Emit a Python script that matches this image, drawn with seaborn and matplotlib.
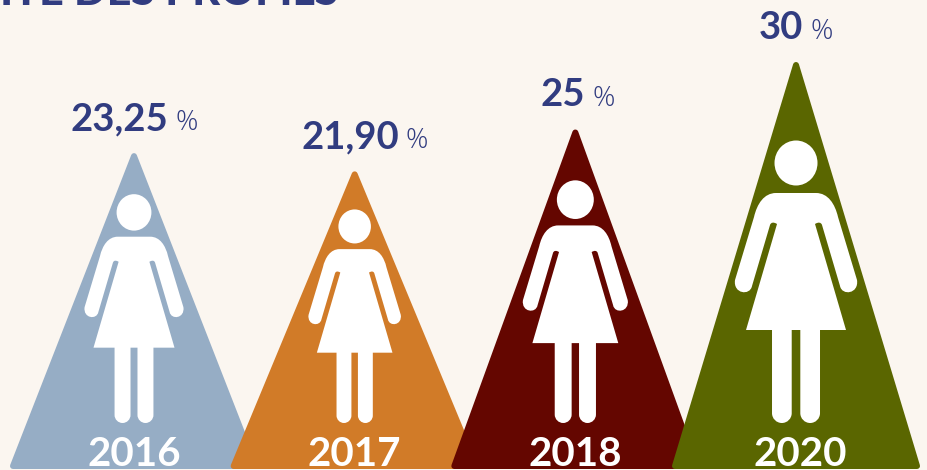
import matplotlib.pyplot as plt
import pandas as pd
import seaborn as sns
from matplotlib.patches import Ellipse, PathPatch, Polygon
from matplotlib.path import Path

# chart values
years = ["2016", "2017", "2018", "2020"]
shares = [23.25, 21.90, 25, 30]
share_labels = ["23,25", "21,90", "25", "30"]
colors = ["#96ADC5", "#D17B28", "#640600", "#5A6600"]
title_text = "MIXITÉ DES PROFILS"

BG = "#FBF6F0"
INK = "#313C80"
W, H = 928, 470
PX_X = 220.67  # px per category step
PX_Y = 13.5  # px per percentage point
BASE_PX = 469
CORNER = 3

# the pictogram is a bit larger than the value scale on small triangles
icon_scale = [0.81, 0.756, 0.859, 1.0]
year_shift = [0, 0, 0, 4.5]
share_shift = [0, 10, 2.5, 0]
FONT = "Lato"


def px_x(dx):
    return dx / PX_X


def px_y(dy):
    return dy / PX_Y


def draw_triangle(ax, bar, color, order):
    left = bar.get_x()
    right = left + bar.get_width()
    mid = (left + right) / 2
    top = bar.get_height()
    pts = [
        (left + px_x(CORNER), px_y(CORNER)),
        (mid, top - px_y(1)),
        (right - px_x(CORNER), px_y(CORNER)),
    ]
    ax.add_patch(Polygon(pts, closed=True, facecolor=color, edgecolor=color,
                         linewidth=CORNER * 2 * 0.72, joinstyle="round", zorder=order))


def draw_woman(ax, mid, scale, order):
    # outline measured in px on the 2020 figure, x from centre, y above the feet
    def xy(x, y):
        return mid + px_x(x * scale), px_y((y * scale) + 46)

    def add_shape(verts, codes):
        pts = [xy(*v) for v in verts]
        ax.add_patch(PathPatch(Path(pts, codes), facecolor="white", edgecolor="none", zorder=order))

    M, L, C, Z = Path.MOVETO, Path.LINETO, Path.CURVE4, Path.CLOSEPOLY

    # head
    hx, hy = xy(0, 260)
    ax.add_patch(Ellipse((hx, hy), px_x(43 * scale), px_y(45 * scale),
                         facecolor="white", edgecolor="none", zorder=order))

    # body with arms
    verts = [
        (0, 230), (20, 230),
        (32, 230), (39, 219), (42, 206),
        (61, 143),
        (63, 129), (46, 127), (44, 137),
        (26, 198),
        (25, 201), (22, 201), (19, 199),
        (50, 93),
        (-50, 93),
        (-19, 199),
        (-22, 201), (-25, 201), (-26, 198),
        (-44, 137),
        (-46, 127), (-63, 129), (-61, 143),
        (-42, 206),
        (-39, 219), (-32, 230), (-20, 230),
        (0, 230),
    ]
    codes = [M, L, C, C, C, L, C, C, C, L, C, C, C, L, L, L,
             C, C, C, L, C, C, C, L, C, C, C, Z]
    add_shape(verts, codes)

    # legs
    for sign in (-1, 1):
        a, b = sorted((sign * 4.3, sign * 24))
        r = (b - a) / 2
        k = r * 0.55
        leg = [
            (a, 94), (b, 94), (b, r),
            (b, r - k), (b - r + k, 0), (b - r, 0),
            (a + r - k, 0), (a, r - k), (a, r),
            (a, 94),
        ]
        add_shape(leg, [M, L, L, C, C, C, C, C, C, Z])


def draw_share(ax, mid, share, label, renderer):
    y = share + px_y(25)
    num = ax.text(mid, y, label, fontsize=27.5, fontweight="bold", color=INK,
                  family=FONT, ha="left", va="baseline", zorder=10)
    pct = ax.text(mid, y, "%", fontsize=20, fontweight="light", color=INK,
                  family="Open Sans", ha="left", va="baseline", zorder=10)
    w_num = num.get_window_extent(renderer).width
    w_pct = pct.get_window_extent(renderer).width
    gap = 7
    start = mid - px_x((w_num + gap + w_pct) / 2)
    num.set_x(start)
    pct.set_x(start + px_x(w_num + gap))


def main():
    sns.set_theme(style="white")
    plt.rcParams["font.family"] = [FONT, "DejaVu Sans"]

    fig = plt.figure(figsize=(W / 100, H / 100), dpi=100, facecolor=BG)
    ax = fig.add_axes([0, 0, 1, 1], facecolor=BG)

    df = pd.DataFrame({"year": years, "share": shares})
    sns.barplot(data=df, x="year", y="share", hue="year", palette=colors, order=years,
                hue_order=years, width=248 / PX_X, dodge=False, legend=False, ax=ax)

    ax.set_xlim(-134 / PX_X, (W - 134) / PX_X)
    ax.set_ylim(-(H - BASE_PX) / PX_Y, BASE_PX / PX_Y)
    ax.set_axis_off()

    renderer = fig.canvas.get_renderer()
    bars = list(ax.patches)
    for i, bar in enumerate(bars):
        mid = bar.get_x() + bar.get_width() / 2
        base_z = 3 + i
        draw_triangle(ax, bar, colors[i], base_z)
        draw_woman(ax, mid, icon_scale[i], base_z)
        ax.text(mid + px_x(year_shift[i]), px_y(3), years[i], color="white", fontsize=29,
                fontweight="bold", family=FONT, ha="center", va="baseline", zorder=base_z)
        draw_share(ax, mid + px_x(share_shift[i]), shares[i], share_labels[i], renderer)
        bar.remove()

    ax.text((339 - 134) / PX_X, (BASE_PX - 5) / PX_Y, title_text, color=INK, fontsize=31,
            fontweight="black", family=FONT, ha="right", va="baseline", zorder=10)

    fig.savefig("out.png", dpi=100, facecolor=BG)


if __name__ == "__main__":
    main()
